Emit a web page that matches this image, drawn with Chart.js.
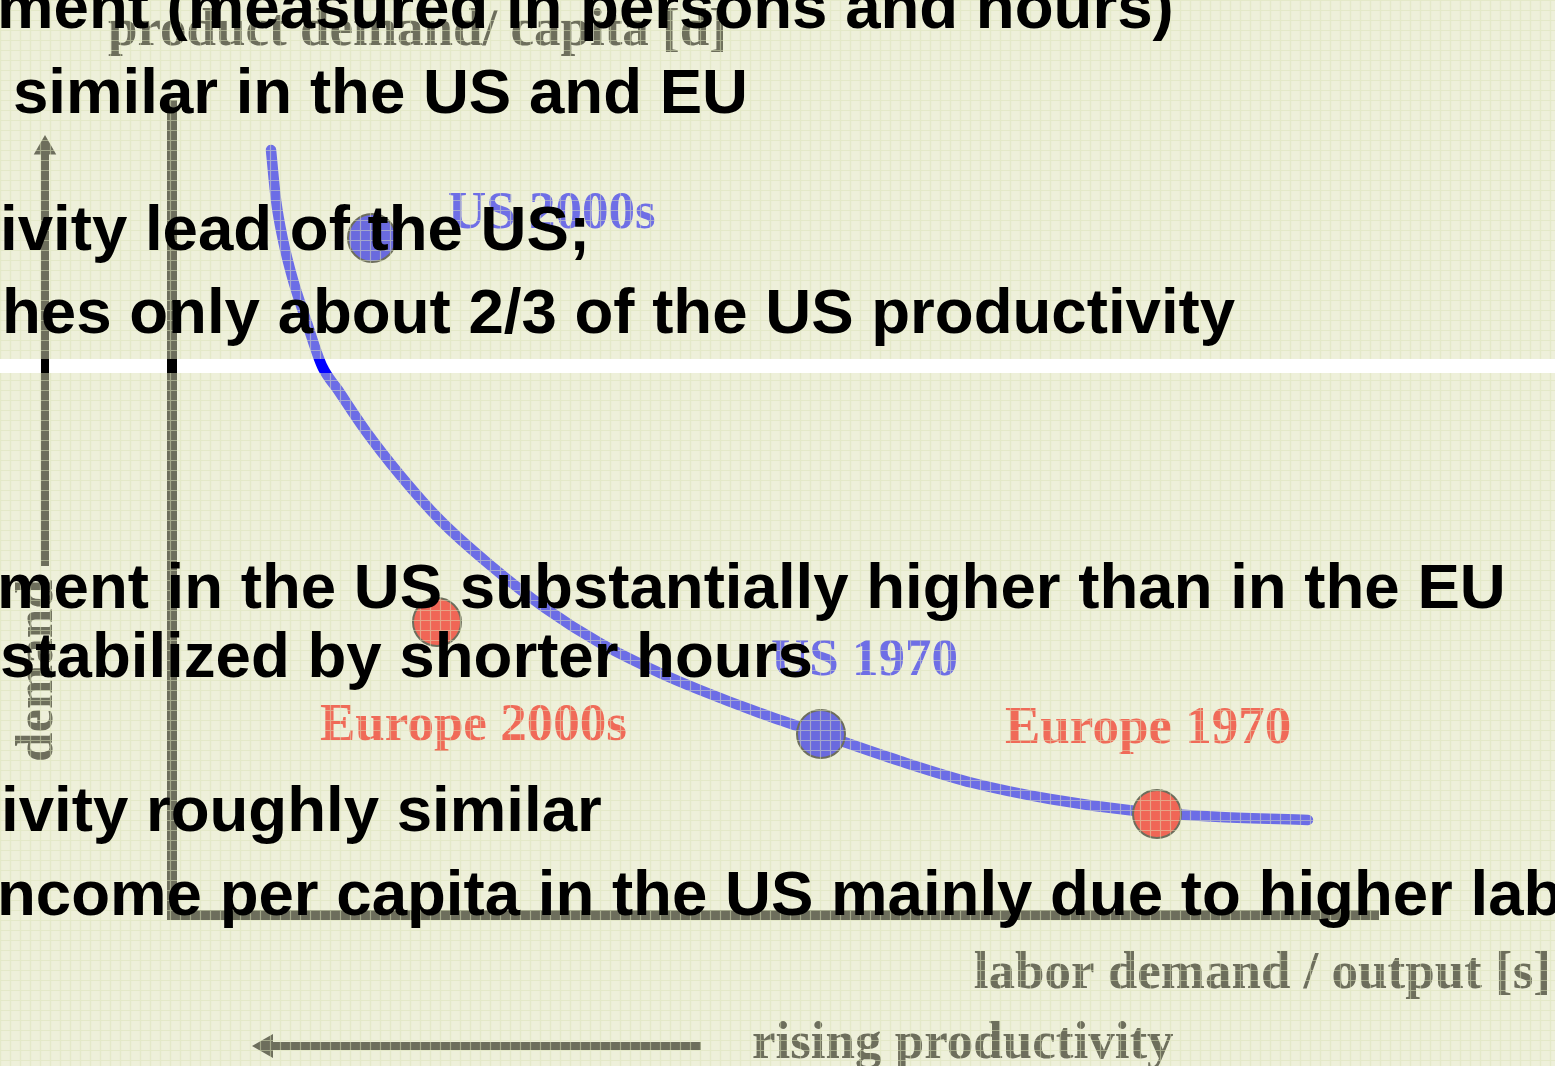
<!DOCTYPE html>
<html>
<head>
<meta charset="utf-8">
<script src="https://cdn.jsdelivr.net/npm/chart.js@4.4.0/dist/chart.umd.min.js"></script>
<style>
  html, body { margin: 0; padding: 0; overflow: hidden; background: #eef0da; }
  #wrap { width: 1555px; height: 1066px; position: relative; }
</style>
</head>
<body>
<div id="wrap"><canvas id="myChart"></canvas></div>
<script>
// labor demand per output (s) vs product demand per capita (d)
var curveS = [0.99, 1.04, 1.11, 1.21, 1.35, 1.50, 1.66, 1.93, 2.28, 2.68, 3.18, 3.73, 4.28, 4.88, 5.28, 5.88, 6.49, 7.28, 8.01, 8.78, 9.64, 10.48, 11.36];
var curveD = [7.65, 7.15, 6.75, 6.35, 5.92, 5.49, 5.25, 4.85, 4.40, 3.95, 3.50, 3.07, 2.72, 2.42, 2.25, 2.02, 1.81, 1.54, 1.32, 1.16, 1.04, 0.98, 0.95];

var pointLabels = ['US 2000s', 'Europe 2000s', 'US 1970', 'Europe 1970'];
var pointRegion = ['US', 'Europe', 'US', 'Europe'];
var pointS = [2.00, 2.65, 6.49, 9.85];
var pointD = [6.77, 2.93, 1.81, 1.01];

// axes and arrows, in the same units
var axisS = [0, 0, 12.07];
var axisD = [8.15, 0, 0];
var demandArrowS = [-1.27, -1.27];
var demandArrowD = [3.49, 7.67];
var productivityArrowS = [5.29, 0.94];
var productivityArrowD = [-1.31, -1.31];

var axisTitles = ['product demand/ capita [d]', 'labor demand / output [s]', 'rising productivity', 'demand'];

var slideLines = [
  'ment (measured in persons and hours)',
  'similar in the US and EU',
  'ivity lead of the US;',
  'hes only about 2/3 of the US productivity',
  'ment in the US substantially higher than in the EU',
  'stabilized by shorter hours',
  'ivity roughly similar',
  'ncome per capita in the US mainly due to higher labor productivity'
];

function zip(xs, ys) {
  var out = [];
  for (var i = 0; i < xs.length; i++) out.push({ x: xs[i], y: ys[i] });
  return out;
}

var BLUE = '#6c6de6', RED = '#f06656', GREY = '#6d6e5c';

var regionColor = pointRegion.map(function (r) { return r === 'US' ? '#6a6ade' : RED; });

// label offsets from each point, in pixels
var labelOffsets = [[76, -10], [-117, 118], [-50, -59], [-152, -71]];
var slideLayout = [[-3, 28], [13, 113], [0, 250], [2, 333], [-3, 608], [0, 677], [1, 831], [-3, 915]];
var band = { top: 359, height: 14 };

var backdrop = {
  id: 'backdrop',
  beforeDraw: function (chart) {
    var ctx = chart.ctx;
    ctx.save();
    ctx.fillStyle = '#eef0da';
    ctx.fillRect(0, 0, chart.width, chart.height);
    ctx.restore();
  }
};

var overlay = {
  id: 'overlay',
  afterDatasetsDraw: function (chart) {
    var ctx = chart.ctx;
    var xs = chart.scales.x, ys = chart.scales.y;
    var W = chart.width, H = chart.height;

    // point labels
    ctx.save();
    ctx.font = 'bold 53px "Liberation Serif", "Times New Roman", serif';
    ctx.textBaseline = 'alphabetic';
    for (var i = 0; i < pointLabels.length; i++) {
      var px = xs.getPixelForValue(pointS[i]), py = ys.getPixelForValue(pointD[i]);
      ctx.fillStyle = pointRegion[i] === 'US' ? '#6e6ee6' : '#f06a58';
      ctx.fillText(pointLabels[i], px + labelOffsets[i][0], py + labelOffsets[i][1]);
    }

    // axis titles
    ctx.fillStyle = GREY;
    ctx.fillText(axisTitles[0], 108, 45);
    ctx.textAlign = 'right';
    ctx.fillText(axisTitles[1], 1551, 988);
    ctx.textAlign = 'left';
    ctx.fillText(axisTitles[2], 752, 1058);
    ctx.save();
    ctx.translate(52, 762);
    ctx.rotate(-Math.PI / 2);
    ctx.fillText(axisTitles[3], 0, 0);
    ctx.restore();
    ctx.restore();

    // paper grid over everything
    ctx.save();
    ctx.strokeStyle = 'rgba(218,226,182,0.5)';
    ctx.lineWidth = 1.2;
    ctx.beginPath();
    for (var gx = 0; gx <= W; gx += 10) { ctx.moveTo(gx + 0.5, 0); ctx.lineTo(gx + 0.5, H); }
    for (var gy = 0; gy <= H; gy += 10) { ctx.moveTo(0, gy + 0.5); ctx.lineTo(W, gy + 0.5); }
    ctx.stroke();
    ctx.restore();

    // white strip without the tint
    ctx.save();
    ctx.beginPath();
    ctx.rect(0, band.top, W, band.height);
    ctx.clip();
    ctx.fillStyle = '#ffffff';
    ctx.fillRect(0, band.top, W, band.height);
    chart.data.datasets.forEach(function (ds, idx) {
      if (!ds.bandColor) return;
      var el = chart.getDatasetMeta(idx).dataset;
      var old = el.options.borderColor;
      el.options.borderColor = ds.bandColor;
      el.draw(ctx, chart.chartArea);
      el.options.borderColor = old;
    });
    ctx.restore();
  },
  afterDraw: function (chart) {
    var ctx = chart.ctx;
    ctx.save();
    ctx.fillStyle = '#000000';
    ctx.font = 'bold 63.6px "Liberation Sans", Arial, sans-serif';
    ctx.textBaseline = 'alphabetic';
    slideLines.forEach(function (t, i) {
      ctx.fillText(t, slideLayout[i][0], slideLayout[i][1]);
    });
    ctx.restore();
  }
};

var ctx = document.getElementById('myChart');
new Chart(ctx, {
  type: 'scatter',
  data: {
    datasets: [
      {
        label: 'regions',
        data: zip(pointS, pointD),
        pointRadius: 24,
        pointBackgroundColor: regionColor,
        pointBorderColor: GREY,
        pointBorderWidth: 2,
        showLine: false
      },
      {
        label: 'curve',
        data: zip(curveS, curveD),
        showLine: true,
        borderColor: BLUE,
        bandColor: '#0000ff',
        borderWidth: 10.5,
        borderCapStyle: 'round',
        cubicInterpolationMode: 'monotone',
        pointRadius: 0
      },
      {
        label: 'axes',
        data: zip(axisS, axisD),
        showLine: true,
        borderColor: GREY,
        bandColor: '#000000',
        borderWidth: 10,
        borderJoinStyle: 'miter',
        pointRadius: 0
      },
      {
        label: 'demand arrow',
        data: zip(demandArrowS, demandArrowD),
        showLine: true,
        borderColor: GREY,
        bandColor: '#000000',
        borderWidth: 8,
        pointRadius: [0, 13],
        pointStyle: 'triangle',
        pointRotation: 0,
        pointBackgroundColor: GREY,
        pointBorderWidth: 0
      },
      {
        label: 'productivity arrow',
        data: zip(productivityArrowS, productivityArrowD),
        showLine: true,
        borderColor: GREY,
        borderWidth: 8,
        pointRadius: [0, 14],
        pointStyle: 'triangle',
        pointRotation: 270,
        pointBackgroundColor: GREY,
        pointBorderWidth: 0
      }
    ]
  },
  options: {
    responsive: true,
    maintainAspectRatio: false,
    animation: false,
    events: [],
    layout: { padding: 0, autoPadding: false },
    plugins: { legend: { display: false }, tooltip: { enabled: false } },
    scales: {
      x: { type: 'linear', min: -1.72, max: 13.83, display: false },
      y: { type: 'linear', min: -1.51, max: 9.15, display: false }
    }
  },
  plugins: [backdrop, overlay]
});
</script>
</body>
</html>
